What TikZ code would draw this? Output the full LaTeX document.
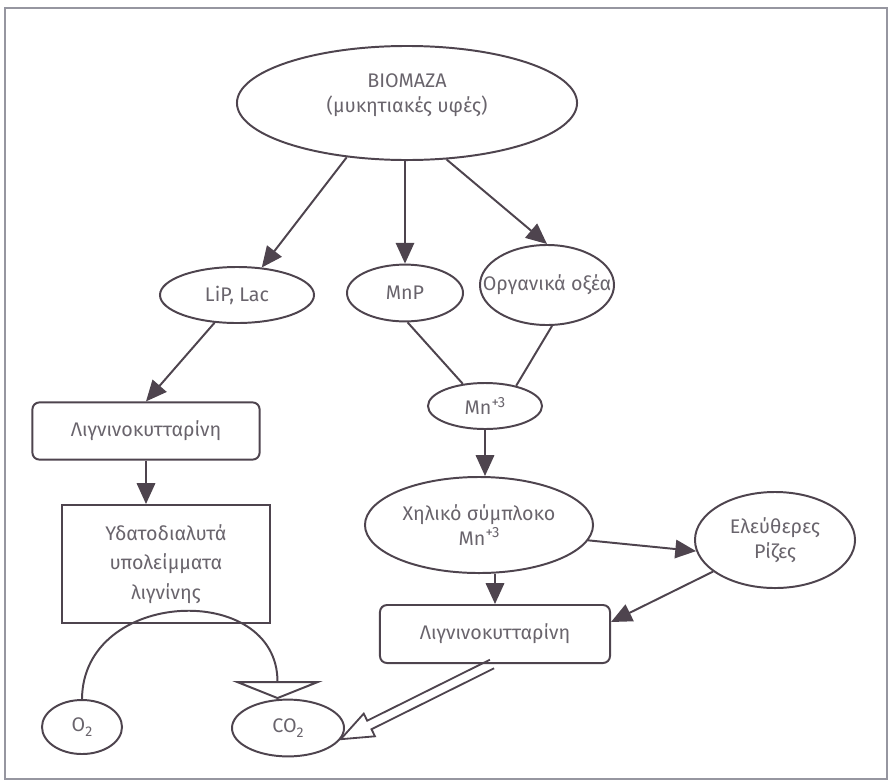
\documentclass[tikz,border=0pt]{standalone}
\usepackage{fontspec}
\setmainfont{Fira Sans}
\usepackage{tikz}
\usetikzlibrary{arrows.meta, positioning, calc, shapes.geometric}
\definecolor{linecol}{RGB}{78,68,78}
\definecolor{txtcol}{RGB}{105,100,108}
\definecolor{framecol}{RGB}{150,150,160}
\newcommand{\mnion}{Mn\raisebox{0.75ex}{\fontsize{10.5}{10.5}\selectfont +3}}
\newcommand{\subtwo}{\raisebox{-0.45ex}{\fontsize{10}{10}\selectfont 2}}

\begin{document}
\begin{tikzpicture}[
  x=0.025cm, y=-0.025cm,
  font=\fontsize{14}{18}\selectfont,
  every label/.style={text=txtcol, align=center, inner sep=0pt},
  ell/.style={ellipse, draw=linecol, line width=1.4pt, inner sep=0pt},
  box/.style={rectangle, draw=linecol, line width=1.4pt, rounded corners=5pt,
              text=txtcol, align=center},
  arr/.style={-{Triangle[length=0.52cm, width=0.46cm]}, draw=linecol, line width=1.4pt},
  ln/.style={draw=linecol, line width=1.4pt},
  hollow/.style={draw=linecol, line width=1.3pt, line join=miter},
]
\useasboundingbox (0,0) rectangle (892,783);
\draw[framecol, line width=1.2pt] (5,8) rectangle (887,779);

% Ellipses
\node[ell, minimum width=8.5cm, minimum height=2.85cm,
      label={[yshift=0.2cm]center:ΒΙΟΜΑΖΑ\\(μυκητιακές υφές)}] (bio) at (407,103) {};
\node[ell, minimum width=3.85cm, minimum height=1.4cm, label={center:LiP, Lac}] (lip) at (237,295) {};
\node[ell, minimum width=2.9cm, minimum height=1.42cm, label={center:MnP}] (mnp) at (405,293) {};
\node[ell, minimum width=3.35cm, minimum height=2cm, label={center:Οργανικά οξέα}] (org) at (547,285) {};
\node[ell, minimum width=2.85cm, minimum height=1.15cm, label={center:\mnion}] (mn3) at (485,406) {};
\node[ell, minimum width=5.7cm, minimum height=2.4cm,
      label={center:Χηλικό σύμπλοκο\\\mnion}] (chel) at (479,525) {};
\node[ell, minimum width=4cm, minimum height=2.4cm, label={center:Ελεύθερες\\Ρίζες}] (free) at (775,540) {};
\node[ell, minimum width=2cm, minimum height=1.35cm, label={center:O\subtwo}] (o2) at (82,727) {};
\node[ell, minimum width=2.8cm, minimum height=1.42cm, label={center:CO\subtwo}] (co2) at (288,728) {};

% Boxes
\node[box, minimum width=5.68cm, minimum height=1.43cm] (ligL) at (146,431) {Λιγνινοκυτταρίνη};
\node[box, rounded corners=0pt, minimum width=5.18cm, minimum height=2.95cm,
      font=\fontsize{14}{21}\selectfont] (water) at (166,564) {Υδατοδιαλυτά\\υπολείμματα\\λιγνίνης};
\node[box, minimum width=5.75cm, minimum height=1.45cm] (ligR) at (495,634) {Λιγνινοκυτταρίνη};

% Connectors
\draw[arr] (bio.-138) -- (lip.48);
\draw[arr] (mnp.north |- bio.south) -- (mnp.north);
\draw[arr] (bio.-55) -- (org.north);
\draw[arr] (lip.-129) -- (ligL.north);
\draw[ln] (mnp.-85) -- (mn3.135);
\draw[ln] (org.-83) -- (mn3.33);
\draw[arr] (mn3.south) -- (mn3.south |- chel.north);
\draw[arr] (chel.-8) -- (free.188);
\draw[arr] (ligR.north |- chel.south) -- (ligR.north);
\draw[arr] (free.207) -- ($(ligR.north east)!0.3!(ligR.south east)$);
\draw[arr] (ligL.south) -- (ligL.south |- water.north);

% O2 -> CO2 loop
\draw[ln, -{Triangle[open, length=0.45cm, width=2.25cm]}]
  (o2.north) .. controls (83,588) and ($(co2.110)+(0,-118)$) .. (co2.110);

% hollow arrow to CO2
\coordinate (hs) at ($(ligR.south)+(-3,0)$);
\coordinate (ht) at (co2.-12);
\coordinate (hb) at ($(ht)!0.8cm!(hs)$);
\draw[hollow] ($(hs)!3.4pt!90:(ht)$) -- ($(hb)!3.4pt!90:(ht)$) -- ($(hb)!9pt!90:(ht)$)
  -- (ht) -- ($(hb)!9pt!-90:(ht)$) -- ($(hb)!3.4pt!-90:(ht)$) -- ($(hs)!3.4pt!-90:(ht)$);
\end{tikzpicture}
\end{document}
